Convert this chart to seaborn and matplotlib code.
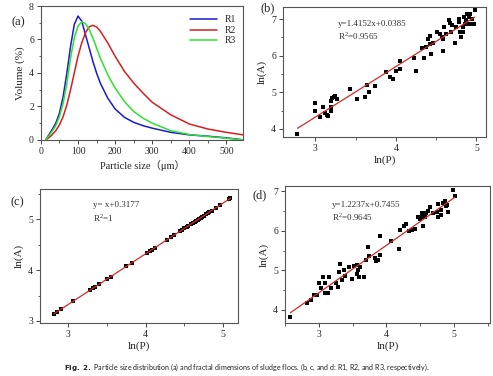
import matplotlib
matplotlib.use("Agg")
import matplotlib.pyplot as plt
from matplotlib.ticker import MultipleLocator
import pandas as pd
import seaborn as sns

# (a) particle size distribution
size_um = [13, 20, 30, 40, 50, 60, 70, 80, 90, 100, 110, 120, 130, 140, 150,
           160, 180, 200, 225, 250, 275, 300, 350, 400, 450, 500, 545]
vol_r1 = [0, 0.25, 0.6, 1.0, 1.6, 2.6, 4.0, 5.6, 6.9, 7.4, 7.1, 6.3, 5.5, 4.7, 4.0,
          3.4, 2.5, 1.85, 1.35, 1.05, 0.85, 0.7, 0.45, 0.3, 0.22, 0.12, 0.0]
vol_r2 = [0, 0.1, 0.3, 0.55, 0.9, 1.4, 2.1, 3.0, 4.0, 5.0, 5.8, 6.4, 6.75, 6.85, 6.75,
          6.5, 5.8, 5.0, 4.1, 3.4, 2.8, 2.25, 1.5, 0.95, 0.65, 0.45, 0.3]
vol_r3 = [0, 0.2, 0.5, 0.85, 1.4, 2.2, 3.4, 4.9, 6.1, 6.8, 7.05, 6.95, 6.6, 6.1, 5.5,
          4.9, 3.9, 3.1, 2.3, 1.7, 1.3, 1.0, 0.55, 0.32, 0.2, 0.1, 0.0]

# (b) R1 fractal points
lnp_b = [2.78, 3.0, 3.0, 3.06, 3.10, 3.12, 3.15, 3.16, 3.20, 3.20, 3.21, 3.23, 3.24,
         3.27, 3.20, 3.43, 3.52, 3.62, 3.64, 3.67, 3.74, 3.88, 3.93, 3.96, 4.0, 4.05,
         4.05, 4.22, 4.25, 4.33, 4.35, 4.38, 4.40, 4.42, 4.43, 4.44, 4.46, 4.51, 4.55,
         4.57, 4.59, 4.59, 4.60, 4.62, 4.66, 4.67, 4.68, 4.70, 4.73, 4.75, 4.78, 4.79,
         4.80, 4.81, 4.83, 4.85, 4.86, 4.87, 4.88, 4.90, 4.91, 4.94, 4.95, 4.97, 4.98,
         4.92, 4.83]
lna_b = [3.86, 4.70, 4.50, 4.31, 4.60, 4.44, 4.39, 4.36, 4.60, 4.75, 4.84, 4.87, 4.89,
         4.81, 4.48, 5.08, 4.81, 4.86, 5.21, 5.01, 5.18, 5.55, 5.41, 5.36, 5.58, 5.86,
         5.63, 5.95, 5.59, 6.20, 5.94, 6.25, 6.45, 6.55, 6.32, 6.06, 6.34, 6.65, 6.60,
         6.50, 6.14, 6.45, 6.79, 6.60, 6.97, 6.89, 6.66, 6.84, 6.35, 6.79, 6.92, 7.00,
         6.66, 6.52, 6.79, 7.05, 6.88, 6.97, 7.15, 6.86, 7.07, 6.86, 7.01, 6.88, 7.26,
         7.15, 6.66]

# (c) R2 fractal points
lnp_c = [2.82, 2.86, 2.91, 3.07, 3.28, 3.32, 3.35, 3.40, 3.50, 3.55, 3.75, 3.82, 4.02,
         4.05, 4.08, 4.12, 4.28, 4.32, 4.37, 4.44, 4.47, 4.50, 4.53, 4.55, 4.58, 4.61,
         4.63, 4.65, 4.67, 4.69, 4.71, 4.73, 4.75, 4.78, 4.80, 4.82, 4.85, 4.90, 4.96,
         5.07, 5.09]
lna_c = [3.14, 3.18, 3.23, 3.39, 3.60, 3.64, 3.67, 3.72, 3.82, 3.87, 4.07, 4.14, 4.34,
         4.37, 4.40, 4.44, 4.60, 4.64, 4.69, 4.76, 4.79, 4.82, 4.85, 4.87, 4.90, 4.93,
         4.95, 4.97, 4.99, 5.01, 5.03, 5.05, 5.07, 5.10, 5.12, 5.14, 5.17, 5.22, 5.28,
         5.39, 5.41]

# (d) R3 fractal points
lnp_d = [2.58, 2.82, 2.89, 2.93, 2.98, 3.01, 3.03, 3.06, 3.09, 3.09, 3.13, 3.15, 3.18,
         3.26, 3.29, 3.30, 3.32, 3.34, 3.37, 3.39, 3.45, 3.49, 3.52, 3.56, 3.57, 3.58,
         3.59, 3.61, 3.67, 3.69, 3.73, 3.74, 3.83, 3.85, 3.88, 3.90, 3.91, 4.07, 4.18,
         4.20, 4.26, 4.29, 4.33, 4.37, 4.42, 4.47, 4.49, 4.52, 4.52, 4.54, 4.57, 4.59,
         4.62, 4.64, 4.69, 4.74, 4.76, 4.81, 4.84, 4.88, 4.91, 4.81, 4.76, 4.99, 5.01,
         4.90, 4.86]
lna_d = [3.82, 4.17, 4.25, 4.38, 4.38, 4.69, 4.55, 4.84, 4.69, 4.44, 4.44, 4.84, 4.55,
         4.69, 4.59, 4.97, 5.16, 4.76, 5.02, 4.87, 5.09, 4.77, 5.10, 4.92, 5.13, 5.00,
         4.82, 5.09, 4.82, 5.26, 5.60, 5.36, 5.32, 5.24, 5.27, 5.40, 5.87, 5.74, 5.55,
         6.01, 6.13, 6.17, 5.99, 6.01, 6.04, 6.34, 6.29, 6.46, 6.36, 6.12, 6.34, 6.44,
         6.51, 6.61, 6.46, 6.48, 6.68, 6.53, 6.70, 6.64, 6.48, 6.39, 6.34, 7.03, 6.89,
         6.66, 6.75]

SERIF = ['Liberation Serif', 'DejaVu Serif']


def style_axes(ax, xminor, yminor):
    for sp in ax.spines.values():
        sp.set_visible(True)
        sp.set_color('#555555')
        sp.set_linewidth(0.8)
    ax.xaxis.set_minor_locator(MultipleLocator(xminor))
    ax.yaxis.set_minor_locator(MultipleLocator(yminor))
    ax.tick_params(which='major', direction='out', length=3, width=0.7,
                   labelsize=7, color='#444444', pad=2)
    ax.tick_params(which='minor', direction='out', length=1.8, width=0.6,
                   color='#444444')


def fractal_panel(ax, x, y, eq, r2, xlim, ylim, msize, eq_pos):
    df_ = pd.DataFrame({'lnP': x, 'lnA': y})
    sns.scatterplot(data=df_, x='lnP', y='lnA', ax=ax, marker='s', color='black',
                    s=msize, linewidth=0, zorder=2)
    sns.regplot(data=df_, x='lnP', y='lnA', ax=ax, scatter=False, ci=None,
                color='#d42a2a', line_kws={'lw': 0.9, 'zorder': 3})
    ax.set_xlim(*xlim)
    ax.set_ylim(*ylim)
    ax.set_xlabel('ln(P)', fontsize=8, labelpad=2)
    ax.set_ylabel('ln(A)', fontsize=8, labelpad=3)
    ax.xaxis.set_major_locator(MultipleLocator(1))
    ax.yaxis.set_major_locator(MultipleLocator(1))
    style_axes(ax, 0.5, 0.5)
    ex, ey = eq_pos
    ax.text(ex, ey, eq, transform=ax.transAxes, fontsize=6.5, color='#333333',
            va='center')
    ax.text(ex, ey - 0.095, r2, transform=ax.transAxes, fontsize=6.5,
            color='#333333', va='center')


def panel_letter(ax, letter, x, y):
    ax.text(x, y, letter, transform=ax.transAxes, fontsize=9, ha='right',
            va='center')


sns.set_style('ticks')
plt.rcParams['font.family'] = SERIF
plt.rcParams['mathtext.fontset'] = 'custom'
plt.rcParams['mathtext.rm'] = 'Liberation Serif'

fig = plt.figure(figsize=(4.93, 3.76), dpi=100)
ax_a = fig.add_axes([0.083, 0.628, 0.41, 0.356])
ax_b = fig.add_axes([0.574, 0.636, 0.412, 0.345])
ax_c = fig.add_axes([0.081, 0.141, 0.402, 0.356])
ax_d = fig.add_axes([0.578, 0.141, 0.416, 0.364])

# panel (a)
psd = pd.DataFrame({
    'size': size_um * 3,
    'volume': vol_r1 + vol_r2 + vol_r3,
    'run': ['R1'] * len(size_um) + ['R2'] * len(size_um) + ['R3'] * len(size_um),
})
sns.lineplot(data=psd, x='size', y='volume', hue='run', ax=ax_a, lw=1.1,
             palette={'R1': '#1a1ad0', 'R2': '#d42020', 'R3': '#2fe02f'})
ax_a.set_xlim(0, 545)
ax_a.set_ylim(0, 8)
ax_a.set_xticks([0, 100, 200, 300, 400, 500])
ax_a.set_yticks([0, 2, 4, 6, 8])
style_axes(ax_a, 50, 1)
ax_a.set_xlabel('Particle size（μm）', fontsize=7.5, labelpad=3,
                family=['Liberation Serif', 'Noto Sans CJK SC'])
ax_a.set_ylabel('Volume (%)', fontsize=8, labelpad=3)
leg = ax_a.legend(loc='upper right', bbox_to_anchor=(1.0, 0.98), frameon=False,
                  fontsize=7, handlelength=2.8, labelspacing=0.15,
                  borderaxespad=0.3)
for line in leg.get_lines():
    line.set_linewidth(1.1)
panel_letter(ax_a, '(a)', -0.08, 0.88)

fractal_panel(ax_b, lnp_b, lna_b, 'y=1.4152x+0.0385', 'R$^2$=0.9565',
              (2.6, 5.12), (3.78, 7.33), 10, (0.27, 0.87))
fractal_panel(ax_c, lnp_c, lna_c, 'y= x+0.3177', 'R$^2$=1',
              (2.64, 5.19), (2.96, 5.59), 6, (0.27, 0.88))
fractal_panel(ax_d, lnp_d, lna_d, 'y=1.2237x+0.7455', 'R$^2$=0.9645',
              (2.5, 5.53), (3.67, 7.13), 10, (0.23, 0.865))
panel_letter(ax_b, '(b)', -0.04, 0.99)
panel_letter(ax_c, '(c)', -0.08, 0.90)
panel_letter(ax_d, '(d)', -0.09, 0.93)

fig.text(0.5, 0.024, r'$\mathbf{Fig.\ 2.}$ Particle size distribution (a) and fractal dimensions '
         'of sludge flocs. (b, c, and d: R1, R2, and R3, respectively).',
         ha='center', va='center', fontsize=5.1, family=['Lato', 'DejaVu Sans'],
         color='#222222')

fig.savefig('out.png', dpi=100)
